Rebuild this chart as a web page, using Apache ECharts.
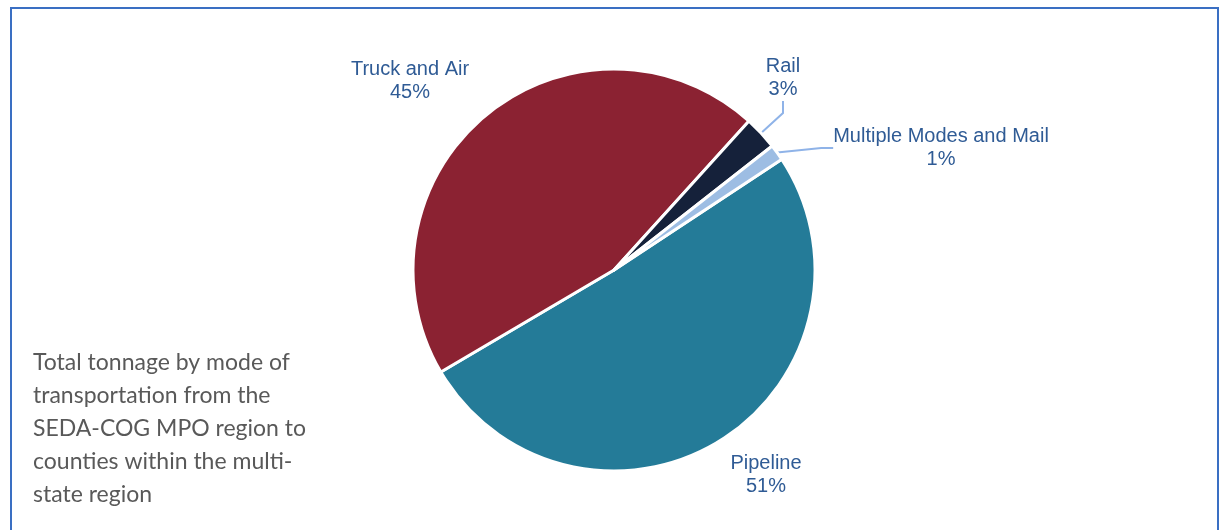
<!DOCTYPE html>
<html>
<head>
    <meta charset="utf-8">
    <title>Tonnage by mode</title>
    <script src="https://cdn.jsdelivr.net/npm/echarts@6/dist/echarts.min.js"></script>
    <style>
        html, body { margin: 0; padding: 0; background: #fff; }
    </style>
</head>
<body>
    <div id="main" style="width: 1220px;height:530px;"></div>
    <script type="text/javascript">
        // data
        var modes = ['Pipeline', 'Truck and Air', 'Rail', 'Multiple Modes and Mail'];
        var shares = [50.8, 45.2, 2.7, 1.3];
        var colors = ['#247b98', '#8b2232', '#15213a', '#9dbde3'];
        var withLine = [false, false, true, true];
        var note = 'Total tonnage by mode of\ntransportation from the\nSEDA-COG MPO region to\ncounties within the multi-\nstate region';

        // where each label block sits (centre of text)
        var labelSpots = [[766, 475], [410, 81], [783, 78], [941, 148]];

        var myChart = echarts.init(document.getElementById('main'));

        var seriesData = modes.map(function (m, i) {
            return {
                name: m,
                value: shares[i],
                itemStyle: { color: colors[i] },
                labelLine: { show: withLine[i] }
            };
        });

        myChart.setOption({
            animation: false,
            graphic: [
                {
                    type: 'rect',
                    shape: { x: 11, y: 8, width: 1207, height: 540 },
                    style: { fill: 'none', stroke: '#3a6fc3', lineWidth: 2 }
                },
                {
                    type: 'text',
                    left: 33,
                    top: 346,
                    style: {
                        text: note,
                        font: '23px Lato',
                        fill: '#595959',
                        lineHeight: 33
                    }
                }
            ],
            series: [{
                type: 'pie',
                center: [614, 270],
                radius: 201,
                startAngle: 33.4,
                clockwise: true,
                itemStyle: { borderColor: '#fff', borderWidth: 3 },
                label: {
                    show: true,
                    formatter: function (p) {
                        return p.name + '\n' + Math.round(p.percent) + '%';
                    },
                    color: '#2f5b95',
                    fontFamily: 'Liberation Sans, Arial, sans-serif',
                    fontSize: 20,
                    lineHeight: 23,
                    align: 'center'
                },
                labelLine: {
                    show: true,
                    length: 10,
                    length2: 12,
                    lineStyle: { color: '#8fb3e8', width: 2 }
                },
                labelLayout: function (params) {
                    var s = labelSpots[params.dataIndex];
                    return {
                        x: s[0],
                        y: s[1],
                        align: 'center',
                        verticalAlign: 'middle'
                    };
                },
                data: seriesData
            }]
        });
    </script>
</body>
</html>
